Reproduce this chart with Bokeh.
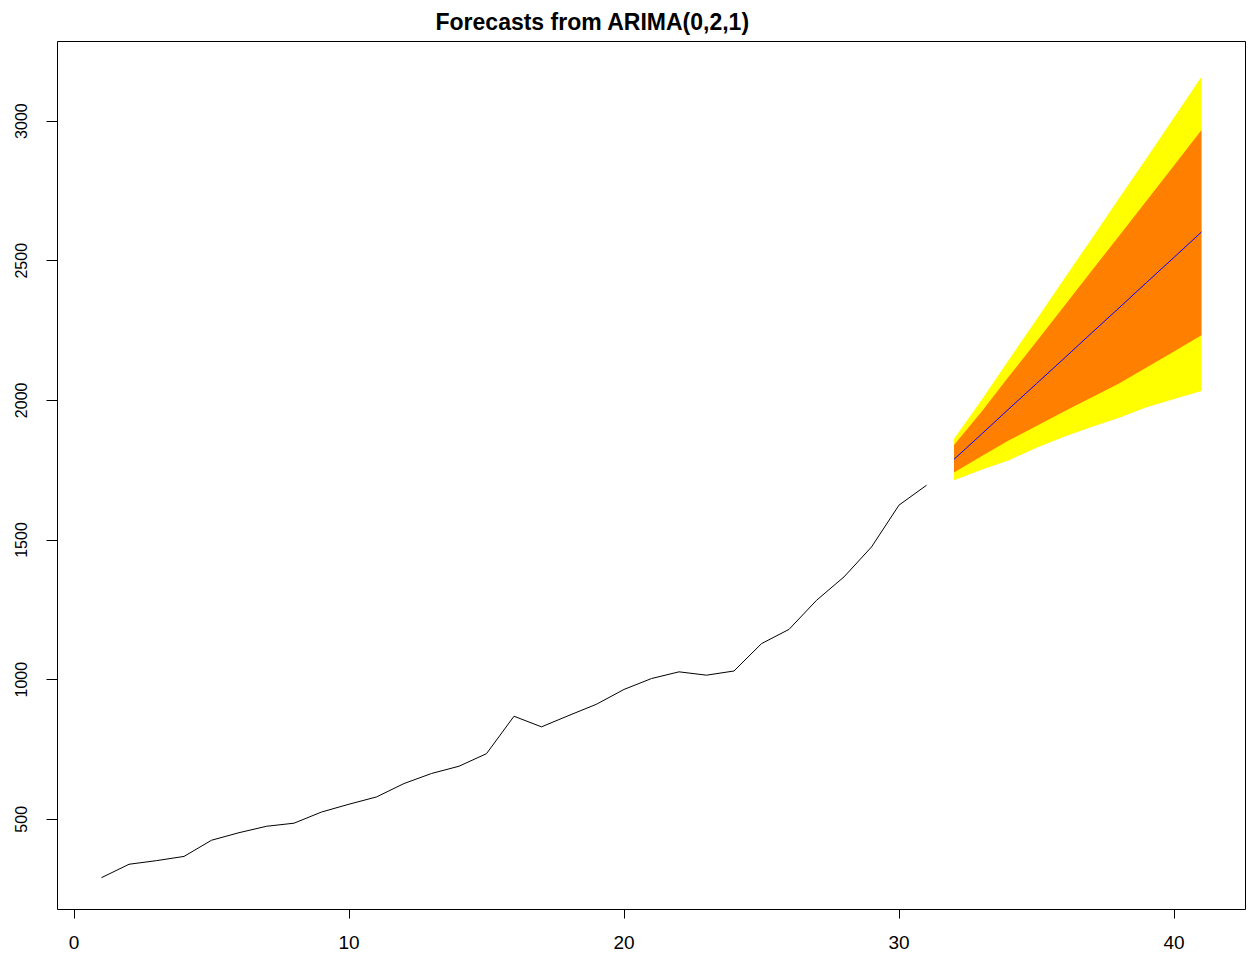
from bokeh.plotting import figure
from bokeh.models import Range1d, FixedTicker
from bokeh.embed import file_html
from bokeh.resources import INLINE

# observed series
obs_t = list(range(1, 32))
obs_v = [291, 339, 352, 367, 425, 452, 475, 486, 526, 554, 580, 628, 664, 690, 735,
         869, 831, 872, 912, 965, 1004, 1028, 1016, 1031, 1129, 1180, 1284, 1368,
         1475, 1625, 1696]

# forecasts
fc_t = list(range(32, 42))
fc_mean = [1789, 1879, 1970, 2060, 2150, 2241, 2331, 2422, 2512, 2603]
lo80 = [1742, 1800, 1857, 1908, 1960, 2010, 2060, 2118, 2175, 2233]
hi80 = [1840, 1959, 2086, 2211, 2337, 2463, 2589, 2715, 2841, 2968]
lo95 = [1714, 1752, 1786, 1830, 1870, 1905, 1938, 1975, 2005, 2034]
hi95 = [1863, 2001, 2146, 2290, 2435, 2578, 2724, 2867, 3013, 3159]

x_ticks = [0, 10, 20, 30, 40]
y_ticks = [500, 1000, 1500, 2000, 2500, 3000]
title_text = "Forecasts from ARIMA(0,2,1)"

FONT = "Liberation Sans"

p = figure(width=1249, height=953, output_backend="svg", toolbar_location=None,
           x_range=Range1d(-0.6, 42.6), y_range=Range1d(177, 3285),
           title=title_text,
           min_border_left=57, min_border_right=4, min_border_top=41, min_border_bottom=44)

p.title.text_font = FONT
p.title.text_font_size = "23px"
p.title.text_font_style = "bold"
p.title.align = "left"
p.title.offset = 378
p.title.vertical_align = "middle"
p.title.standoff = 12
p.title.text_color = "black"

p.background_fill_color = "white"
p.border_fill_color = "white"
p.outline_line_color = "black"
p.outline_line_width = 1
p.grid.visible = False

for ax in (p.xaxis, p.yaxis):
    ax.axis_line_color = None
    ax.major_tick_line_color = "black"
    ax.major_tick_in = 0
    ax.minor_tick_line_color = None
    ax.major_label_text_font = FONT
    ax.major_label_text_color = "black"

p.xaxis.ticker = FixedTicker(ticks=x_ticks)
p.yaxis.ticker = FixedTicker(ticks=y_ticks)
p.xaxis.major_tick_out = 9
p.yaxis.major_tick_out = 11
p.xaxis.major_label_text_font_size = "19px"
p.yaxis.major_label_text_font_size = "16px"
p.xaxis.major_label_standoff = 17
p.yaxis.major_label_standoff = 19
p.yaxis.major_label_orientation = "vertical"

p.varea(x=fc_t, y1=lo95, y2=hi95, fill_color="#FFFF00")
p.varea(x=fc_t, y1=lo80, y2=hi80, fill_color="#FF8000")
p.line(obs_t, obs_v, line_color="black", line_width=1)
p.line(fc_t, fc_mean, line_color="#0000FF", line_width=1)

open("out.html", "w").write(file_html(p, INLINE))
